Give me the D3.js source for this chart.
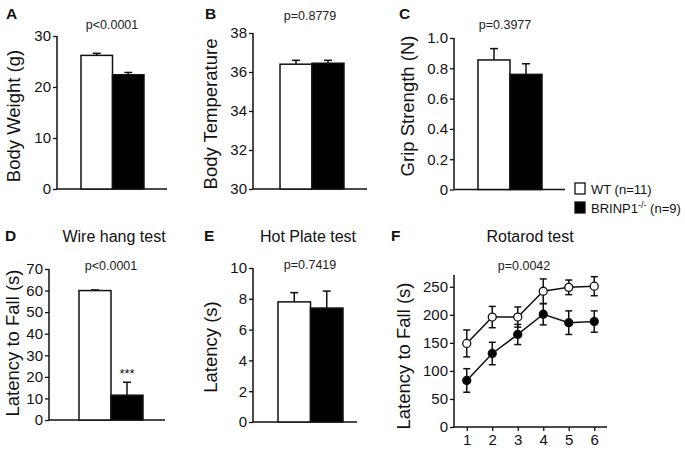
<!DOCTYPE html>
<html>
<head>
<meta charset="utf-8">
<script src="https://cdn.jsdelivr.net/npm/d3@7"></script>
<style>
  body { margin: 0; background: #fff; }
  svg { font-family: "Liberation Sans", Arial, Helvetica, sans-serif; }
</style>
</head>
<body>
<svg id="fig" width="685" height="451"></svg>
<script>
// groups
var groups = ["WT", "BRINP1"];

// bar panels: mean and sem for WT, BRINP1
var bodyWeight = [26.2, 22.4], bodyWeightErr = [0.4, 0.45];
var bodyTemp = [36.4, 36.45], bodyTempErr = [0.2, 0.15];
var grip = [0.855, 0.76], gripErr = [0.075, 0.07];
var wireHang = [60, 11.5], wireHangErr = [0.3, 6];
var hotPlate = [7.8, 7.4], hotPlateErr = [0.6, 1.1];

// rotarod
var trials = [1, 2, 3, 4, 5, 6];
var rotaWT = [149, 196, 196, 242, 249, 251];
var rotaWTErr = [24, 19, 18, 22, 13, 17];
var rotaKO = [83, 131, 165, 201, 186, 188];
var rotaKOErr = [21, 20, 18, 19, 21, 19];
var rotaTicks = [0, 50, 100, 150, 200, 250];

var svg = d3.select("#fig");
var TICK_FS = 15, LABEL_FS = 18.5;

//////////// helpers ////////////

function styleTicks(ax) {
    ax.select(".domain").remove();
    ax.selectAll(".tick line").attr("stroke", "#111").attr("stroke-width", 1.3);
    ax.selectAll(".tick text").attr("font-size", TICK_FS).attr("fill", "#111")
        .attr("font-family", "Liberation Sans, Arial, sans-serif");
}

function yAxis(g, x0, y, ticks, fmt) {
    var ax = g.append("g")
        .attr("transform", "translate(" + x0 + ",0)")
        .call(d3.axisLeft(y).tickValues(ticks).tickSize(4).tickPadding(2).tickFormat(fmt));
    styleTicks(ax);
    g.append("line")
        .attr("x1", x0).attr("x2", x0)
        .attr("y1", y.range()[0]).attr("y2", y.range()[1])
        .attr("stroke", "#111").attr("stroke-width", 1.5);
}

function yLabel(g, t, x, y) {
    g.append("text")
        .attr("transform", "translate(" + x + "," + y + ") rotate(-90)")
        .attr("text-anchor", "middle").attr("font-size", LABEL_FS).attr("fill", "#111")
        .text(t);
}

function barPanel(opt) {
    var g = svg.append("g");
    var y = d3.scaleLinear().domain(opt.domain).range([opt.yBot, opt.yTop]);
    var x = d3.scaleBand().domain(groups).range(opt.bars).padding(0);

    yAxis(g, opt.x0, y, opt.ticks, opt.fmt || d3.format("d"));
    // bottom line
    g.append("line")
        .attr("x1", opt.x0).attr("x2", opt.xEnd)
        .attr("y1", opt.yBot).attr("y2", opt.yBot)
        .attr("stroke", "#111").attr("stroke-width", 1.5);

    var data = groups.map(function(k, i) { return {k: k, v: opt.values[i], e: opt.errs[i]}; });

    // error bars (upward only)
    g.selectAll("line.err").data(data).enter().append("line")
        .attr("x1", function(d) { return x(d.k) + x.bandwidth() / 2; })
        .attr("x2", function(d) { return x(d.k) + x.bandwidth() / 2; })
        .attr("y1", function(d) { return y(d.v); })
        .attr("y2", function(d) { return y(d.v + d.e); })
        .attr("stroke", "#111").attr("stroke-width", 1.5);
    g.selectAll("line.cap").data(data).enter().append("line")
        .attr("x1", function(d) { return x(d.k) + x.bandwidth() / 2 - 4; })
        .attr("x2", function(d) { return x(d.k) + x.bandwidth() / 2 + 4; })
        .attr("y1", function(d) { return y(d.v + d.e); })
        .attr("y2", function(d) { return y(d.v + d.e); })
        .attr("stroke", "#111").attr("stroke-width", 1.5);

    g.selectAll("rect.bar").data(data).enter().append("rect")
        .attr("x", function(d) { return x(d.k); })
        .attr("width", x.bandwidth())
        .attr("y", function(d) { return y(d.v); })
        .attr("height", function(d) { return opt.yBot - y(d.v); })
        .attr("fill", function(d, i) { return i === 0 ? "#fff" : "#000"; })
        .attr("stroke", "#111").attr("stroke-width", 1.5);

    g.append("text").attr("x", opt.pX).attr("y", opt.pY)
        .attr("text-anchor", "middle").attr("font-size", 12.5).attr("fill", "#222")
        .text(opt.p);

    yLabel(g, opt.ylabel, opt.labX, opt.labY);
    return {g: g, x: x, y: y};
}

function panelLetter(t, x, y) {
    svg.append("text").attr("x", x).attr("y", y)
        .attr("font-size", 15.5).attr("font-weight", "bold").attr("fill", "#111").text(t);
}

function title(t, x, y) {
    svg.append("text").attr("x", x).attr("y", y).attr("text-anchor", "middle")
        .attr("font-size", 16).attr("fill", "#111").text(t);
}

//////////// top row ////////////

barPanel({x0: 57, yTop: 36, yBot: 189, domain: [0, 30], ticks: [0, 10, 20, 30],
    bars: [81, 144], xEnd: 167, values: bodyWeight, errs: bodyWeightErr,
    p: "p<0.0001", pX: 112, pY: 29, ylabel: "Body Weight (g)", labX: 20, labY: 116});
panelLetter("A", 6, 19);

barPanel({x0: 253, yTop: 33, yBot: 189, domain: [30, 38], ticks: [30, 32, 34, 36, 38],
    bars: [280, 344], xEnd: 367, values: bodyTemp, errs: bodyTempErr,
    p: "p=0.8779", pX: 310, pY: 20, ylabel: "Body Temperature", labX: 217, labY: 114});
panelLetter("B", 205, 19);

barPanel({x0: 454, yTop: 38, yBot: 189.5, domain: [0, 1], ticks: [0, 0.2, 0.4, 0.6, 0.8, 1.0],
    fmt: function(d) { return d === 0 ? "0" : d3.format(".1f")(d); },
    bars: [478, 542], xEnd: 565, values: grip, errs: gripErr,
    p: "p=0.3977", pX: 505, pY: 29, ylabel: "Grip Strength (N)", labX: 414, labY: 106});
panelLetter("C", 399, 19);

// legend
var legend = svg.append("g").attr("font-size", 13).attr("fill", "#111");
legend.append("rect").attr("x", 575).attr("y", 183).attr("width", 10).attr("height", 11)
    .attr("fill", "#fff").attr("stroke", "#111").attr("stroke-width", 1.3);
legend.append("text").attr("x", 591).attr("y", 194).text("WT (n=11)");
legend.append("rect").attr("x", 575).attr("y", 202).attr("width", 10).attr("height", 11)
    .attr("fill", "#000").attr("stroke", "#111").attr("stroke-width", 1.3);
var lt = legend.append("text").attr("x", 591).attr("y", 213);
lt.append("tspan").text("BRINP1");
lt.append("tspan").attr("dy", -5).attr("font-size", 9).text("-/-");
lt.append("tspan").attr("dy", 5).text(" (n=9)");

//////////// bottom row ////////////

var d = barPanel({x0: 49, yTop: 269, yBot: 420, domain: [0, 70], ticks: [0, 10, 20, 30, 40, 50, 60, 70],
    bars: [79, 143], xEnd: 165, values: wireHang, errs: wireHangErr,
    p: "p<0.0001", pX: 111, pY: 270, ylabel: "Latency to Fall (s)", labX: 19, labY: 343});
d.g.append("text").attr("x", d.x("BRINP1") + d.x.bandwidth() / 2).attr("y", d.y(wireHang[1] + wireHangErr[1]) - 4)
    .attr("text-anchor", "middle").attr("font-size", 13).attr("fill", "#111").text("***");
panelLetter("D", 5, 241);
title("Wire hang test", 114, 242);

barPanel({x0: 253, yTop: 268, yBot: 422, domain: [0, 10], ticks: [0, 2, 4, 6, 8, 10],
    bars: [278, 343], xEnd: 357, values: hotPlate, errs: hotPlateErr,
    p: "p=0.7419", pX: 310, pY: 269, ylabel: "Latency (s)", labX: 217, labY: 347});
panelLetter("E", 204, 241);
title("Hot Plate test", 308, 242);

// rotarod
var gF = svg.append("g");
var xF = d3.scaleLinear().domain([0.5, 6.5]).range([454, 607]);
var yF = d3.scaleLinear().domain([0, 271]).range([427, 275]);
yAxis(gF, 454, yF, rotaTicks, d3.format("d"));
gF.append("line").attr("x1", 454).attr("x2", 607).attr("y1", 427).attr("y2", 427)
    .attr("stroke", "#111").attr("stroke-width", 1.5);
var xa = gF.append("g").attr("transform", "translate(0,427)")
    .call(d3.axisBottom(xF).tickValues(trials).tickSize(4).tickPadding(3).tickFormat(d3.format("d")));
styleTicks(xa);

function series(vals, errs, fill) {
    var pts = trials.map(function(t, i) { return {t: t, v: vals[i], e: errs[i]}; });
    gF.append("path").datum(pts)
        .attr("d", d3.line().x(function(d) { return xF(d.t); }).y(function(d) { return yF(d.v); }))
        .attr("fill", "none").attr("stroke", "#111").attr("stroke-width", 1.5);
    var eb = gF.append("g").selectAll("g").data(pts).enter().append("g");
    eb.append("line")
        .attr("x1", function(d) { return xF(d.t); }).attr("x2", function(d) { return xF(d.t); })
        .attr("y1", function(d) { return yF(d.v - d.e); }).attr("y2", function(d) { return yF(d.v + d.e); })
        .attr("stroke", "#111").attr("stroke-width", 1.5);
    [-1, 1].forEach(function(s) {
        eb.append("line")
            .attr("x1", function(d) { return xF(d.t) - 3.5; }).attr("x2", function(d) { return xF(d.t) + 3.5; })
            .attr("y1", function(d) { return yF(d.v + s * d.e); }).attr("y2", function(d) { return yF(d.v + s * d.e); })
            .attr("stroke", "#111").attr("stroke-width", 1.5);
    });
    gF.append("g").selectAll("circle").data(pts).enter().append("circle")
        .attr("cx", function(d) { return xF(d.t); }).attr("cy", function(d) { return yF(d.v); })
        .attr("r", 4).attr("fill", fill).attr("stroke", "#111").attr("stroke-width", 1.3);
}
series(rotaKO, rotaKOErr, "#000");
series(rotaWT, rotaWTErr, "#fff");

gF.append("text").attr("x", 524).attr("y", 270).attr("text-anchor", "middle")
    .attr("font-size", 12.5).attr("fill", "#222").text("p=0.0042");
yLabel(gF, "Latency to Fall (s)", 410, 356);
panelLetter("F", 391, 241);
title("Rotarod test", 530, 242);
</script>
</body>
</html>
